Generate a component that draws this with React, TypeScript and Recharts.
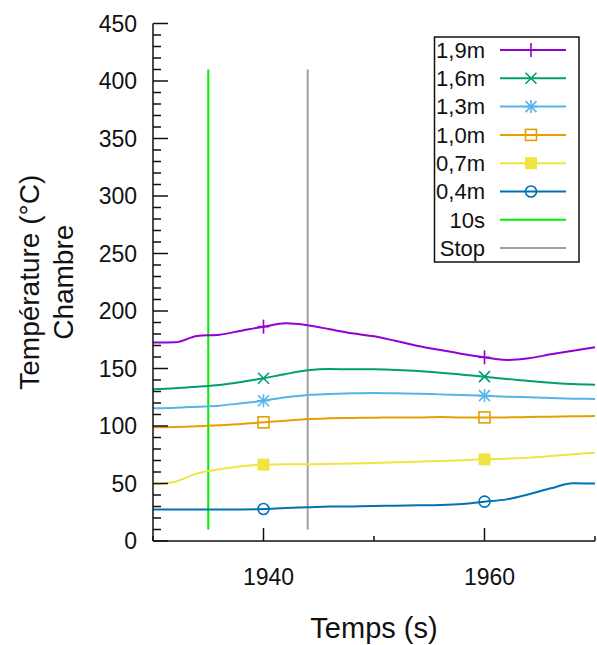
import React from "react";
import { LineChart, Line, XAxis, YAxis, ReferenceLine, Label } from "recharts";

const times = [1930, 1932, 1934, 1936, 1938, 1940, 1942, 1944, 1946, 1948, 1950, 1952, 1954, 1956, 1958, 1960, 1962, 1964, 1966, 1968, 1970];
const s19 = [172.5, 172.8, 178.3, 179.4, 182.9, 186.4, 189.3, 187.6, 184.1, 180.6, 178.0, 173.9, 169.6, 166.1, 162.6, 159.7, 157.4, 158.9, 162.3, 165.5, 168.4];
const s16 = [131.9, 132.8, 134.2, 135.7, 138.3, 141.5, 145.2, 148.4, 149.6, 149.3, 149.3, 148.7, 147.8, 146.4, 144.6, 142.9, 140.9, 139.1, 137.7, 136.5, 135.9];
const s13 = [115.4, 115.9, 116.8, 117.7, 119.7, 122.0, 124.9, 127.0, 127.8, 128.4, 128.7, 128.4, 128.1, 127.5, 127.0, 126.4, 125.5, 124.9, 124.3, 123.8, 123.5];
const s10 = [98.9, 99.1, 99.7, 100.6, 101.7, 103.2, 104.6, 106.1, 106.7, 107.0, 107.2, 107.5, 107.5, 107.8, 107.5, 107.5, 107.5, 107.8, 108.1, 108.4, 108.7];
const s07 = [49.3, 51.6, 58.8, 62.3, 65.0, 66.4, 66.7, 66.7, 67.0, 67.3, 67.8, 68.4, 69.0, 69.6, 70.2, 71.0, 71.6, 72.5, 73.9, 75.4, 76.8];
const s04 = [27.5, 27.5, 27.5, 27.5, 27.5, 27.8, 28.7, 29.3, 29.9, 30.1, 30.4, 30.7, 31.0, 31.3, 32.2, 34.2, 36.2, 40.6, 45.8, 50.2, 50.0];

const markerLineTimes = { t10s: 1935, stop: 1944 };
const markerLineRange = [10, 410];

const xTicks = [1930, 1940, 1950, 1960, 1970];
const yTicks = Array.from({ length: 46 }, (_, i) => i * 10);

const FONT = "'Liberation Sans', Arial, sans-serif";
const INK = "#111";

type Shape = "plus" | "cross" | "star" | "square" | "fsquare" | "circle" | "none";

const seriesDefs: { key: string; name: string; color: string; shape: Shape; values: number[] }[] = [
  { key: "s19", name: "1,9m", color: "#9400d3", shape: "plus", values: s19 },
  { key: "s16", name: "1,6m", color: "#009e73", shape: "cross", values: s16 },
  { key: "s13", name: "1,3m", color: "#56b4e9", shape: "star", values: s13 },
  { key: "s10", name: "1,0m", color: "#e69f00", shape: "square", values: s10 },
  { key: "s07", name: "0,7m", color: "#f0e442", shape: "fsquare", values: s07 },
  { key: "s04", name: "0,4m", color: "#0072b2", shape: "circle", values: s04 },
];

const data = times.map((t, i) => {
  const row: Record<string, number> = { time: t };
  seriesDefs.forEach((s) => (row[s.key] = s.values[i]));
  return row;
});

function Marker({ cx, cy, shape, color }: { cx: number; cy: number; shape: Shape; color: string }) {
  const sw = 1.6;
  switch (shape) {
    case "plus":
      return (
        <g stroke={color} strokeWidth={sw}>
          <line x1={cx - 6} x2={cx + 6} y1={cy} y2={cy} />
          <line x1={cx} x2={cx} y1={cy - 7} y2={cy + 7} />
        </g>
      );
    case "cross":
      return (
        <g stroke={color} strokeWidth={sw}>
          <line x1={cx - 5.5} x2={cx + 5.5} y1={cy - 5.5} y2={cy + 5.5} />
          <line x1={cx - 5.5} x2={cx + 5.5} y1={cy + 5.5} y2={cy - 5.5} />
        </g>
      );
    case "star":
      return (
        <g stroke={color} strokeWidth={sw}>
          <line x1={cx - 5.5} x2={cx + 5.5} y1={cy - 5.5} y2={cy + 5.5} />
          <line x1={cx - 5.5} x2={cx + 5.5} y1={cy + 5.5} y2={cy - 5.5} />
          <line x1={cx - 6.5} x2={cx + 6.5} y1={cy} y2={cy} />
          <line x1={cx} x2={cx} y1={cy - 6.5} y2={cy + 6.5} />
        </g>
      );
    case "square":
      return <rect x={cx - 5.5} y={cy - 5.5} width={11} height={11} fill="none" stroke={color} strokeWidth={sw} />;
    case "fsquare":
      return <rect x={cx - 6} y={cy - 6} width={12} height={12} fill={color} stroke="none" />;
    case "circle":
      return <circle cx={cx} cy={cy} r={5.5} fill="none" stroke={color} strokeWidth={sw} />;
    default:
      return null;
  }
}

const makeDot = (shape: Shape, color: string) => (props: any) => {
  const { cx, cy, payload, index } = props;
  if (payload && payload.time % 20 === 0) {
    return (
      <g key={`d-${index}`}>
        <Marker cx={cx} cy={cy} shape={shape} color={color} />
      </g>
    );
  }
  return <g key={`d-${index}`} />;
};

const LeftTick = (props: any) => {
  const { x, y, payload } = props;
  const v = payload.value;
  const major = v % 50 === 0;
  const x0 = x + 1;
  return (
    <g>
      <line x1={x0} x2={x0 + (major ? 15 : 8)} y1={y} y2={y} stroke={INK} strokeWidth={1.5} />
      {major && (
        <text x={x0 - 16} y={y + 8.3} textAnchor="end" fontSize={23} fontFamily={FONT} fill={INK}>
          {v}
        </text>
      )}
    </g>
  );
};

const RightTick = (props: any) => {
  const { x, y, payload } = props;
  const v = payload.value;
  const major = v % 50 === 0;
  const x0 = x - 1;
  return <line x1={x0} x2={x0 - (major ? 15 : 8)} y1={y} y2={y} stroke={INK} strokeWidth={1.5} />;
};

const BottomTick = (props: any) => {
  const { x, y, payload } = props;
  const v = payload.value;
  const major = v % 20 === 0;
  const y0 = y - 1;
  return (
    <g>
      <line x1={x} x2={x} y1={y0} y2={y0 - (major ? 13 : 5)} stroke={INK} strokeWidth={1.5} />
      {major && (
        <text x={x + 5} y={y0 + 44} textAnchor="middle" fontSize={23} fontFamily={FONT} fill={INK}>
          {v}
        </text>
      )}
    </g>
  );
};

const TopTick = (props: any) => {
  const { x, y, payload } = props;
  const v = payload.value;
  const major = v % 20 === 0;
  const y0 = y + 1;
  return <line x1={x} x2={x} y1={y0} y2={y0 + (major ? 13 : 5)} stroke={INK} strokeWidth={1.5} />;
};

const YLabel = (props: any) => {
  const vb = props.viewBox || {};
  const cy = vb.y + vb.height / 2;
  return (
    <g fontFamily={FONT} fontSize={28} fill={INK}>
      <text x={39} y={cy} textAnchor="middle" transform={`rotate(-90 39 ${cy})`}>
        Température (°C)
      </text>
      <text x={73} y={cy} textAnchor="middle" transform={`rotate(-90 73 ${cy})`}>
        Chambre
      </text>
    </g>
  );
};

const XLabel = (props: any) => {
  const vb = props.viewBox || {};
  const cx = vb.x + vb.width / 2;
  return (
    <text x={cx} y={vb.y + 97} textAnchor="middle" fontFamily={FONT} fontSize={29} fill={INK}>
      Temps (s)
    </text>
  );
};

const legendItems: { name: string; color: string; shape: Shape }[] = [
  ...seriesDefs.map((s) => ({ name: s.name, color: s.color, shape: s.shape })),
  { name: "10s", color: "#00ee00", shape: "none" as Shape },
  { name: "Stop", color: "#a0a0a0", shape: "none" as Shape },
];

function LegendBox() {
  return (
    <svg width={597} height={645} style={{ position: "absolute", left: 0, top: 0, pointerEvents: "none" }}>
      <rect x={434.5} y={37} width={144.5} height={225} fill="#fff" stroke={INK} strokeWidth={1.5} />
      {legendItems.map((it, i) => {
        const y = 50 + i * 28.3;
        return (
          <g key={it.name}>
            <text x={485} y={y + 7.8} textAnchor="end" fontFamily={FONT} fontSize={22} fill={INK}>
              {it.name}
            </text>
            <line x1={500} x2={566} y1={y} y2={y} stroke={it.color} strokeWidth={2} />
            <Marker cx={531} cy={y} shape={it.shape} color={it.color} />
          </g>
        );
      })}
    </svg>
  );
}

export default function App() {
  return (
    <div style={{ position: "absolute", left: 0, top: 0, width: 597, height: 645, background: "#fff" }}>
      <LineChart width={597} height={645} data={data} margin={{ top: 23.5, right: 2, left: 0, bottom: 0 }}>
        <XAxis
          dataKey="time"
          type="number"
          domain={[1930, 1970]}
          ticks={xTicks}
          interval={0}
          height={104}
          tickSize={1}
          tickMargin={0}
          tickLine={false}
          axisLine={{ stroke: INK, strokeWidth: 1.5 }}
          tick={<BottomTick />}
          allowDataOverflow
        >
          <Label content={<XLabel />} />
        </XAxis>
        <XAxis
          xAxisId="top"
          orientation="top"
          dataKey="time"
          type="number"
          domain={[1930, 1970]}
          ticks={xTicks}
          interval={0}
          height={0}
          tickSize={1}
          tickMargin={0}
          tickLine={false}
          axisLine={{ stroke: INK, strokeWidth: 1.5 }}
          tick={<TopTick />}
          allowDataOverflow
        />
        <YAxis
          type="number"
          domain={[0, 450]}
          ticks={yTicks}
          interval={0}
          width={153}
          tickSize={1}
          tickMargin={0}
          tickLine={false}
          axisLine={{ stroke: INK, strokeWidth: 1.5 }}
          tick={<LeftTick />}
          allowDataOverflow
        >
          <Label content={<YLabel />} />
        </YAxis>
        <YAxis
          yAxisId="right"
          orientation="right"
          type="number"
          domain={[0, 450]}
          ticks={yTicks}
          interval={0}
          width={0}
          tickSize={1}
          tickMargin={0}
          tickLine={false}
          axisLine={{ stroke: INK, strokeWidth: 1.5 }}
          tick={<RightTick />}
          allowDataOverflow
        />
        <ReferenceLine
          segment={[
            { x: markerLineTimes.t10s, y: markerLineRange[0] },
            { x: markerLineTimes.t10s, y: markerLineRange[1] },
          ]}
          stroke="#00ee00"
          strokeWidth={2}
          ifOverflow="visible"
        />
        <ReferenceLine
          segment={[
            { x: markerLineTimes.stop, y: markerLineRange[0] },
            { x: markerLineTimes.stop, y: markerLineRange[1] },
          ]}
          stroke="#a0a0a0"
          strokeWidth={2}
          ifOverflow="visible"
        />
        {seriesDefs.map((s) => (
          <Line
            key={s.key}
            dataKey={s.key}
            name={s.name}
            type="monotone"
            stroke={s.color}
            strokeWidth={2}
            dot={makeDot(s.shape, s.color)}
            activeDot={false}
            isAnimationActive={false}
          />
        ))}
      </LineChart>
      <LegendBox />
    </div>
  );
}
